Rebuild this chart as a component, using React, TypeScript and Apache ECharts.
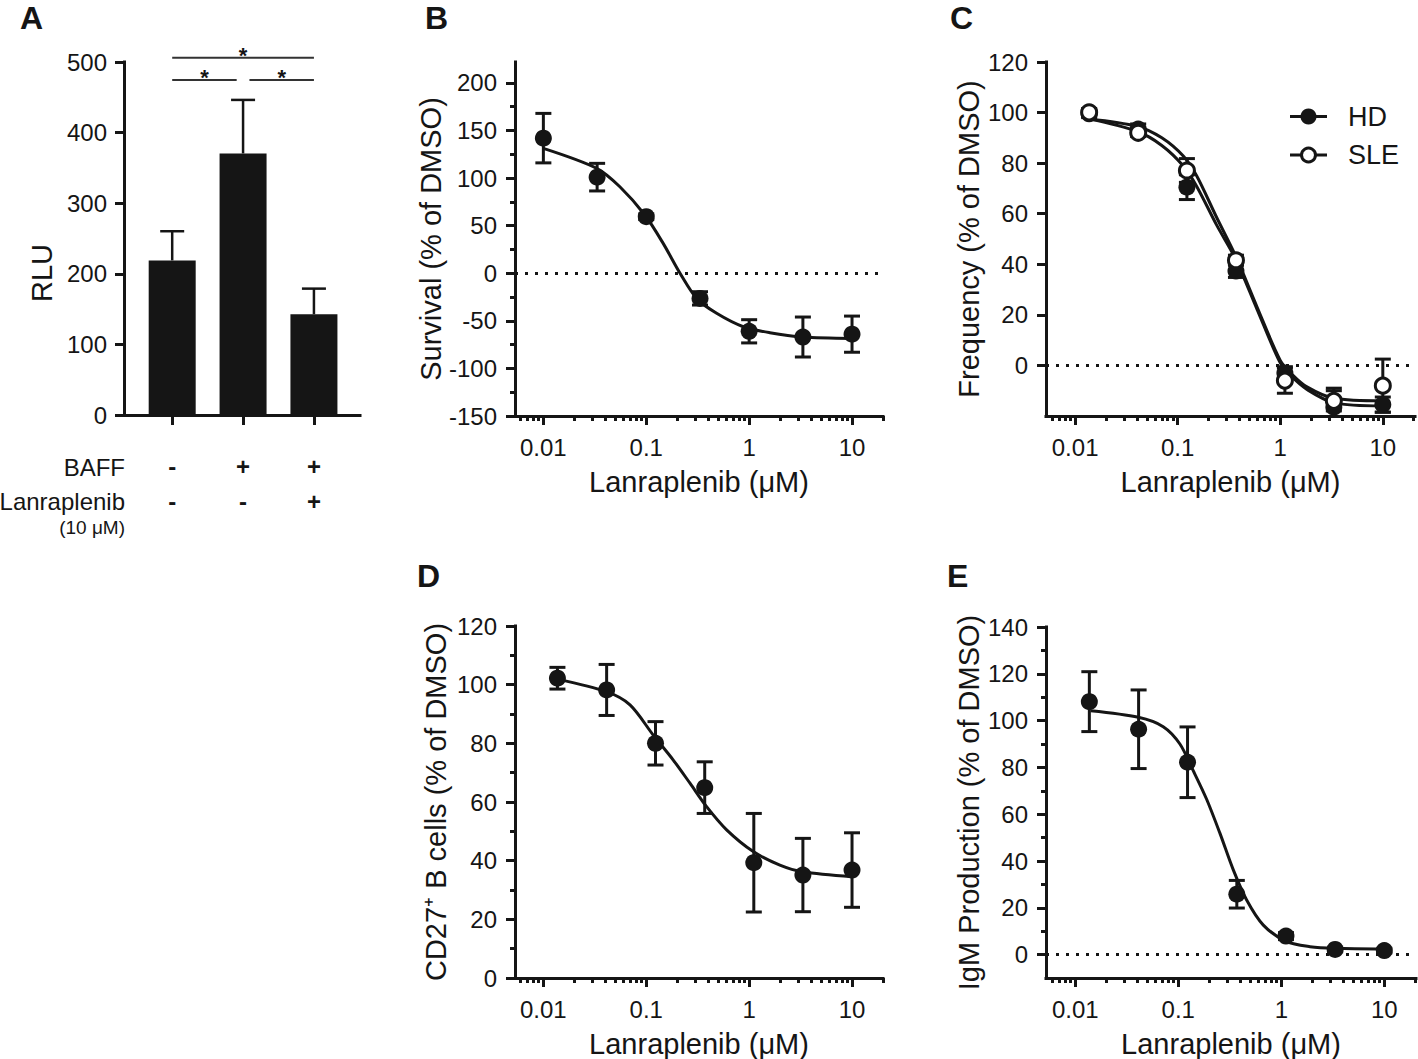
import React, { useEffect, useRef } from "react";
import * as echarts from "echarts";

const FONT = '"Liberation Sans", Arial, Helvetica, sans-serif';
const INK = "#151515";

// ---------- Panel A ----------
const groupsA = [0, 1, 2];
const rluMean = [219, 370.5, 142.7];
const rluSD = [41.3, 75.8, 36.3];
const baffRow = ["-", "+", "+"];
const lanRow = ["-", "-", "+"];
// [fromGroup, toGroup, y level]
const sigBrackets = [
  [0, 2, 506],
  [0, 0.91, 474.6],
  [1.09, 2, 474.6],
];
const ticksA = [0, 100, 200, 300, 400, 500];

// ---------- dose axes ----------
const doseTicks = [0.01, 0.1, 1, 10];
const doseMinorTicks = [
  0.006, 0.007, 0.008, 0.009, 0.02, 0.03, 0.04, 0.05, 0.06, 0.07, 0.08, 0.09,
  0.2, 0.3, 0.4, 0.5, 0.6, 0.7, 0.8, 0.9, 2, 3, 4, 5, 6, 7, 8, 9, 20,
];

// ---------- Panel B ----------
const dosesB = [0.01, 0.0333, 0.1, 0.333, 1, 3.33, 10];
const survivalMean = [142, 101, 59.4, -26.4, -61, -67, -64];
const survivalSD = [26, 14.5, 3, 7, 12.2, 21, 19];
const survivalFitX = [0.01, 0.033, 0.0554, 0.097, 0.146, 0.213, 0.309, 0.483, 0.877, 1.59, 3.33, 10];
const survivalFitY = [131.3, 110.3, 90.9, 61.2, 31.4, 0, -26.4, -42.1, -56.2, -62.5, -67, -68.5];
const ticksB = [-150, -100, -50, 0, 50, 100, 150, 200];
const minorB = [-125, -75, -25, 25, 75, 125, 175];

// ---------- Panel C ----------
const dosesCDE = [0.0137, 0.0412, 0.123, 0.37, 1.11, 3.33, 10];
const hdMean = [99.5, 93.5, 70.5, 37.3, -3, -16.5, -15.5];
const hdSD = [1.5, 2, 4.9, 2.5, 2.5, 7.5, 3];
const sleMean = [100.1, 92, 77.1, 41.6, -6, -14, -8];
const sleSD = [1.5, 1.5, 4.7, 2, 5, 4, 10.5];
const freqFitX = [0.0137, 0.04, 0.07, 0.114, 0.153, 0.24, 0.368, 0.59, 1.0, 1.3, 1.82, 3.33, 10];
const hdFitY = [97.5, 92.6, 87, 78.8, 70.9, 55.5, 42, 22.5, 1, -4.5, -9.5, -14.8, -16];
const sleFitY = [97.5, 94.6, 90, 82.7, 75, 58.5, 43.2, 23.4, 2, -3.5, -8.5, -13, -14];
const ticksC = [0, 20, 40, 60, 80, 100, 120];

// ---------- Panel D ----------
const cd27Mean = [102.2, 98.2, 80, 64.9, 39.3, 35.1, 36.8];
const cd27SD = [3.7, 8.7, 7.4, 8.8, 16.8, 12.5, 12.7];
const cd27FitX = [0.0139, 0.041, 0.0695, 0.117, 0.183, 0.266, 0.386, 0.604, 1.096, 1.99, 3.33, 10];
const cd27FitY = [101.8, 97.6, 93.1, 82.8, 74.3, 66.4, 58.4, 50.5, 43.1, 38.5, 36.2, 34.5];
const ticksD = [0, 20, 40, 60, 80, 100, 120];
const minorD = [10, 30, 50, 70, 90, 110];

// ---------- Panel E ----------
const igmMean = [108.1, 96.3, 82.2, 25.8, 7.9, 2.2, 1.7];
const igmSD = [12.8, 16.8, 15.1, 5.9, 1.5, 1, 1];
const igmFitX = [0.0141, 0.041, 0.0714, 0.1037, 0.14, 0.188, 0.254, 0.342, 0.461, 0.669, 1.127, 1.9, 3.33, 10];
const igmFitY = [104.2, 101.4, 97.4, 90, 78.5, 66.5, 51.8, 36.2, 23.3, 12.6, 5.5, 3.4, 2.7, 2.4];
const ticksE = [0, 20, 40, 60, 80, 100, 120, 140];
const minorE = [10, 30, 50, 70, 90, 110, 130];

const X_TITLE = "Lanraplenib (μM)";

function zip(xs: number[], ys: number[]) {
  return xs.map((x, i) => [x, ys[i]]);
}
function errData(xs: number[], m: number[], s: number[]) {
  return xs.map((x, i) => [x, m[i] - s[i], m[i] + s[i]]);
}

const axisLine = { show: true, onZero: false, lineStyle: { color: INK, width: 3, cap: "square" } };
const noLine = { show: false, onZero: false };
function tick(len: number, values?: number[]) {
  const t: any = { show: true, inside: false, length: len, lineStyle: { color: INK, width: 3 } };
  if (values) t.customValues = values;
  return t;
}
function label(margin: number, values: number[], formatter?: any) {
  return {
    show: true,
    margin,
    color: INK,
    fontSize: 24,
    fontFamily: FONT,
    customValues: values,
    formatter: formatter || ((v: number) => String(v)),
  };
}
const nameStyle = { color: INK, fontSize: 29, fontFamily: FONT };
const fmtDose = (v: number) => String(+Number(v).toPrecision(2));

function logXAxes(grid: number, min: number, max: number) {
  return [
    {
      type: "log",
      logBase: 10,
      gridIndex: grid,
      position: "bottom",
      min,
      max,
      axisLine,
      axisTick: tick(9, doseTicks),
      axisLabel: label(19, doseTicks, fmtDose),
      splitLine: { show: false },
      name: X_TITLE,
      nameLocation: "middle",
      nameGap: 51,
      nameTextStyle: nameStyle,
    },
    {
      type: "log",
      logBase: 10,
      gridIndex: grid,
      position: "bottom",
      min,
      max,
      axisLine: noLine,
      axisTick: tick(5, doseMinorTicks),
      axisLabel: { show: false },
      splitLine: { show: false },
    },
  ];
}

function valueYAxes(grid: number, min: number, max: number, major: number[], minor: number[] | null, name: string, gap: number) {
  return [
    {
      type: "value",
      gridIndex: grid,
      position: "left",
      min,
      max,
      axisLine,
      axisTick: tick(9, major),
      axisLabel: label(18, major),
      splitLine: { show: false },
      name,
      nameLocation: "middle",
      nameGap: gap,
      nameTextStyle: nameStyle,
    },
    minor
      ? {
          type: "value",
          gridIndex: grid,
          position: "left",
          min,
          max,
          axisLine: noLine,
          axisTick: tick(5, minor),
          axisLabel: { show: false },
          splitLine: { show: false },
        }
      : { type: "value", gridIndex: grid, show: false, min, max },
  ];
}

function errRender(half: number, width: number, lowerCap: boolean) {
  return (params: any, api: any) => {
    const x = api.value(0);
    const lo = api.value(1);
    const hi = api.value(2);
    const pLo = api.coord([x, lo]);
    const pHi = api.coord([x, hi]);
    const st = { stroke: INK, lineWidth: width };
    const children: any[] = [
      { type: "line", shape: { x1: pLo[0], y1: pLo[1], x2: pHi[0], y2: pHi[1] }, style: st },
      { type: "line", shape: { x1: pHi[0] - half, y1: pHi[1], x2: pHi[0] + half, y2: pHi[1] }, style: st },
    ];
    if (lowerCap) {
      children.push({ type: "line", shape: { x1: pLo[0] - half, y1: pLo[1], x2: pLo[0] + half, y2: pLo[1] }, style: st });
    }
    return { type: "group", children };
  };
}

function sigRender(params: any, api: any) {
  const x1 = api.value(0);
  const x2 = api.value(1);
  const y = api.value(2);
  const a = api.coord([x1, y]);
  const b = api.coord([x2, y]);
  return {
    type: "group",
    children: [
      { type: "line", shape: { x1: a[0], y1: a[1], x2: b[0], y2: b[1] }, style: { stroke: "#333", lineWidth: 2 } },
      {
        type: "text",
        x: (a[0] + b[0]) / 2,
        y: a[1] - 2,
        style: { text: "*", fontSize: 22, fontWeight: "bold", fill: INK, align: "center", verticalAlign: "middle", fontFamily: FONT },
      },
    ],
  };
}

const zeroLine = {
  silent: true,
  symbol: ["none", "none"],
  label: { show: false },
  lineStyle: { color: INK, width: 3, type: [3, 7] },
  data: [{ yAxis: 0 }],
};

function doseSeries(
  xi: number,
  doses: number[],
  mean: number[],
  sd: number[],
  fitX: number[],
  fitY: number[],
  withZero: boolean,
  open = false
) {
  const fit: any = {
    type: "line",
    xAxisIndex: xi,
    yAxisIndex: xi,
    data: zip(fitX, fitY),
    showSymbol: false,
    symbol: "none",
    smooth: 0.3,
    lineStyle: { color: INK, width: 3 },
    z: 3,
  };
  if (withZero) fit.markLine = zeroLine;
  return [
    {
      type: "custom",
      xAxisIndex: xi,
      yAxisIndex: xi,
      data: errData(doses, mean, sd),
      encode: { x: 0, y: [1, 2] },
      renderItem: errRender(8, 3, true),
      clip: true,
      z: 2,
    },
    fit,
    {
      type: "scatter",
      xAxisIndex: xi,
      yAxisIndex: xi,
      data: zip(doses, mean),
      symbol: "circle",
      symbolSize: open ? 15 : 17,
      itemStyle: open
        ? { color: "#fff", borderColor: INK, borderWidth: 3, opacity: 1 }
        : { color: INK, opacity: 1 },
      z: open ? 5 : 4,
    },
  ];
}

function buildOption(): any {
  const grids = [
    { left: 124, top: 62, width: 236, height: 353 },
    { left: 515, top: 62, width: 368, height: 354 },
    { left: 1046, top: 62, width: 369, height: 354 },
    { left: 515, top: 626, width: 368, height: 352 },
    { left: 1046, top: 627, width: 370, height: 351 },
  ];

  const xA = [
    {
      type: "value",
      gridIndex: 0,
      position: "bottom",
      min: -0.68,
      max: 2.65,
      axisLine,
      axisTick: tick(10, groupsA),
      axisLabel: { show: false },
      splitLine: { show: false },
    },
    { type: "value", gridIndex: 0, show: false, min: -0.68, max: 2.65 },
  ];
  const rowAxis = (offset: number, row: string[]) => ({
    type: "value",
    gridIndex: 0,
    position: "bottom",
    offset,
    min: -0.68,
    max: 2.65,
    axisLine: noLine,
    axisTick: { show: false },
    splitLine: { show: false },
    axisLabel: {
      show: true,
      margin: 0,
      verticalAlign: "middle",
      color: INK,
      fontSize: 24,
      fontWeight: "bold",
      fontFamily: FONT,
      customValues: groupsA,
      formatter: (v: number) => row[Math.round(v)] ?? "",
    },
  });

  const xAxis = [
    ...xA,
    ...logXAxes(1, 0.0053, 20),
    ...logXAxes(2, 0.0052, 20.6),
    ...logXAxes(3, 0.0053, 20),
    ...logXAxes(4, 0.0052, 20.3),
    rowAxis(51, baffRow),
    rowAxis(86, lanRow),
  ];

  const yA = [
    {
      type: "value",
      gridIndex: 0,
      position: "left",
      min: 0,
      max: 500,
      axisLine,
      axisTick: tick(9, ticksA),
      axisLabel: label(17, ticksA),
      splitLine: { show: false },
    },
    { type: "value", gridIndex: 0, show: false, min: 0, max: 500 },
  ];
  const yAxis = [
    ...yA,
    ...valueYAxes(1, -150, 222, ticksB, minorB, "Survival (% of DMSO)", 65),
    ...valueYAxes(2, -20, 120, ticksC, null, "Frequency (% of DMSO)", 63),
    ...valueYAxes(3, 0, 120, ticksD, minorD, "CD27⁺ B cells (% of DMSO)", 65),
    ...valueYAxes(4, -10, 140, ticksE, minorE, "IgM Production (% of DMSO)", 63),
  ];

  const series: any[] = [
    {
      type: "bar",
      xAxisIndex: 0,
      yAxisIndex: 0,
      data: zip(groupsA, rluMean),
      barWidth: 47,
      itemStyle: { color: INK },
      z: 2,
    },
    {
      type: "custom",
      xAxisIndex: 0,
      yAxisIndex: 0,
      data: groupsA.map((g, i) => [g, rluMean[i], rluMean[i] + rluSD[i]]),
      encode: { x: 0, y: [1, 2] },
      renderItem: errRender(12, 2.5, false),
      z: 3,
    },
    {
      type: "custom",
      xAxisIndex: 0,
      yAxisIndex: 0,
      data: sigBrackets,
      encode: { x: [0, 1], y: 2 },
      renderItem: sigRender,
      clip: false,
      z: 3,
    },
    ...doseSeries(2, dosesB, survivalMean, survivalSD, survivalFitX, survivalFitY, true),
    ...doseSeries(4, dosesCDE, hdMean, hdSD, freqFitX, hdFitY, true),
    ...doseSeries(4, dosesCDE, sleMean, sleSD, freqFitX, sleFitY, false, true),
    ...doseSeries(6, dosesCDE, cd27Mean, cd27SD, cd27FitX, cd27FitY, false),
    ...doseSeries(8, dosesCDE, igmMean, igmSD, igmFitX, igmFitY, true),
  ];

  const letter = (t: string, x: number, y: number) => ({
    type: "text",
    x,
    y,
    style: { text: t, fontSize: 32, fontWeight: "bold", fill: INK, fontFamily: FONT, align: "left", verticalAlign: "top" },
  });
  const plainText = (t: string, x: number, y: number, size: number, align = "right") => ({
    type: "text",
    x,
    y,
    style: { text: t, fontSize: size, fill: INK, fontFamily: FONT, align, verticalAlign: "middle" },
  });

  const graphic = [
    letter("A", 20, 2),
    letter("B", 425, 2),
    letter("C", 950, 2),
    letter("D", 417, 560),
    letter("E", 947, 560),
    {
      type: "text",
      x: 42,
      y: 273,
      rotation: Math.PI / 2,
      style: { text: "RLU", fontSize: 29, fill: INK, fontFamily: FONT, align: "center", verticalAlign: "middle" },
    },
    plainText("BAFF", 125, 467, 24),
    plainText("Lanraplenib", 125, 501, 24),
    plainText("(10 μM)", 125, 527, 19),
    // legend of panel C
    { type: "line", shape: { x1: 1290, y1: 116.5, x2: 1327, y2: 116.5 }, style: { stroke: INK, lineWidth: 3 } },
    { type: "circle", shape: { cx: 1308.5, cy: 116.5, r: 8 }, style: { fill: INK } },
    plainText("HD", 1348, 116.5, 27, "left"),
    { type: "line", shape: { x1: 1290, y1: 155, x2: 1327, y2: 155 }, style: { stroke: INK, lineWidth: 3 } },
    { type: "circle", shape: { cx: 1308.5, cy: 155, r: 7 }, style: { fill: "#fff", stroke: INK, lineWidth: 3 } },
    plainText("SLE", 1348, 155, 27, "left"),
  ];

  return {
    animation: false,
    backgroundColor: "#fff",
    textStyle: { fontFamily: FONT, color: INK },
    grid: grids,
    xAxis,
    yAxis,
    series,
    graphic: { elements: graphic },
  };
}

export default function App() {
  const ref = useRef<HTMLDivElement>(null);
  useEffect(() => {
    if (!ref.current) return;
    const chart = echarts.init(ref.current, undefined, { renderer: "svg" });
    chart.setOption(buildOption());
    return () => chart.dispose();
  }, []);
  return (
    <div
      ref={ref}
      style={{ position: "fixed", left: 0, top: 0, width: 1418, height: 1059, background: "#fff" }}
    />
  );
}
